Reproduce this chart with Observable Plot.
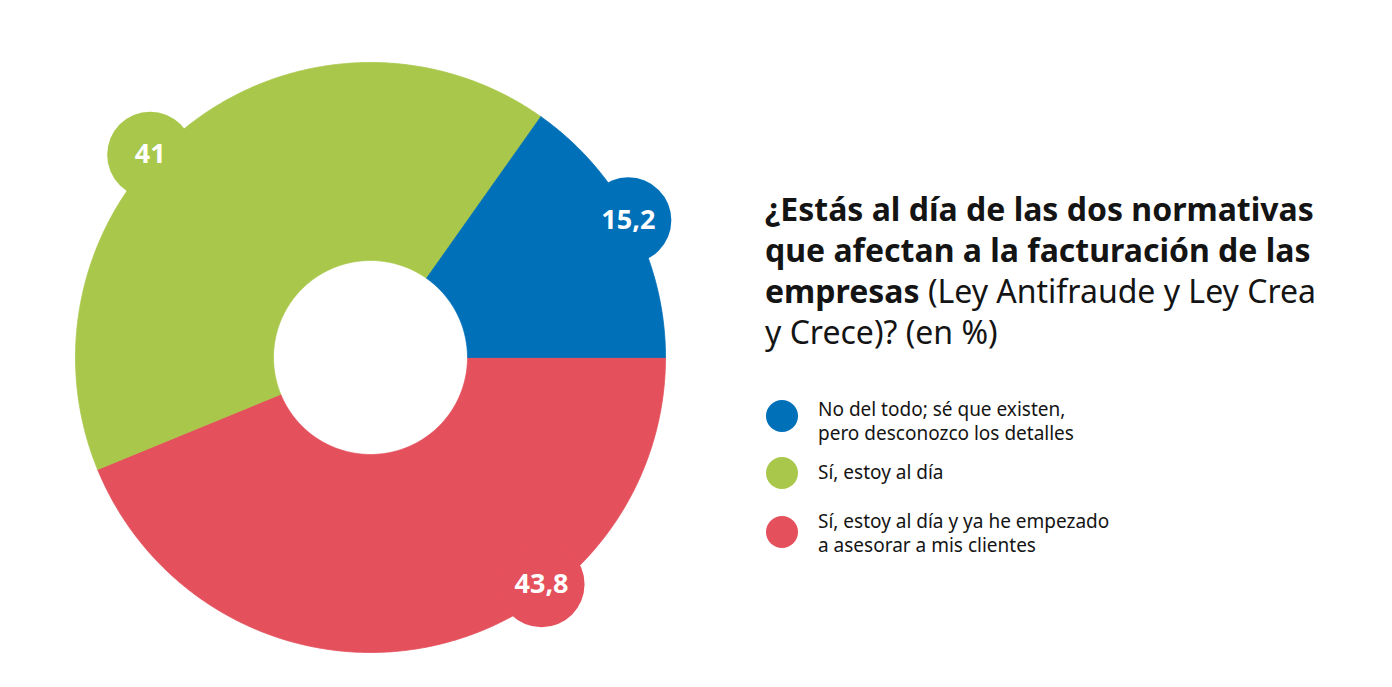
<!DOCTYPE html>
<html>
<head>
<meta charset="utf-8">
<script src="https://cdn.jsdelivr.net/npm/d3@7"></script>
<script src="https://cdn.jsdelivr.net/npm/@observablehq/plot@0.6"></script>
<style>
  body { margin: 0; background: #fff; }
  #wrap { position: relative; width: 1392px; height: 687px; font-family: "Noto Sans", Roboto, sans-serif; color: #141414; overflow: hidden; }
  #chart { position: absolute; left: 0; top: 0; }
  #title { position: absolute; left: 765px; top: 188px; font-size: 32px; line-height: 41px; white-space: nowrap; font-weight: 400; }
  #title b { font-weight: 700; }
  .item { position: absolute; left: 766px; }
  .item .sw { position: absolute; left: 0; width: 32px; height: 32px; border-radius: 50%; }
  .item .tx { position: absolute; left: 52px; font-size: 19px; line-height: 24px; white-space: pre; }
</style>
</head>
<body>
<div id="wrap">
  <div id="chart"></div>
  <div id="title"><b>¿Estás al día de las dos normativas<br>que afectan a la facturación de las<br>empresas</b> (Ley Antifraude y Ley Crea<br>y Crece)? (en %)</div>
  <div id="legend"></div>
</div>
<script>
// Survey answers (percent)
const categories = [
  "No del todo; sé que existen,\npero desconozco los detalles",
  "Sí, estoy al día",
  "Sí, estoy al día y ya he empezado\na asesorar a mis clientes"
];
const values = [15.2, 41, 43.8];
const colors = ["#0070b9", "#a9c84b", "#e4505c"];

// Drawing order clockwise, starting at 3 o'clock
const sliceOrder = [2, 1, 0];
const startDeg = 90;

// Layout: where each value bubble sits (fraction along its slice, radial distance)
const labelAlong = [0.488, 0.44, 0.336];
const labelDist = [0.99, 1.015, 0.963];

const innerR = 97 / 295;
const bubbleR = 43;
const fmt = v => String(v).replace(".", ",");

// Build ring-segment outlines in unit-circle coordinates
const rows = [];
const labels = [];
const total = d3.sum(values);
let a = startDeg;
for (const i of sliceOrder) {
  const a0 = a, a1 = a + values[i] / total * 360;
  const n = Math.max(8, Math.ceil(a1 - a0) * 2);
  const pts = [];
  for (let k = 0; k <= n; k++) {
    const t = (a0 + (a1 - a0) * k / n) * Math.PI / 180;
    pts.push({cat: categories[i], x: Math.sin(t), y: Math.cos(t)});
  }
  for (let k = n; k >= 0; k--) {
    const t = (a0 + (a1 - a0) * k / n) * Math.PI / 180;
    pts.push({cat: categories[i], x: innerR * Math.sin(t), y: innerR * Math.cos(t)});
  }
  pts.push({...pts[0]});
  rows.push(...pts);
  const am = (a0 + (a1 - a0) * labelAlong[i]) * Math.PI / 180;
  labels.push({cat: categories[i], value: values[i], x: labelDist[i] * Math.sin(am), y: labelDist[i] * Math.cos(am)});
  a = a1;
}

const W = 740, H = 687, R = 295, cx = 370, cy = 357;
const chart = Plot.plot({
  width: W,
  height: H,
  margin: 0,
  style: {fontFamily: "'Noto Sans', Roboto, sans-serif", background: "transparent"},
  x: {domain: [-cx / R, (W - cx) / R], axis: null},
  y: {domain: [(cy - H) / R, cy / R], axis: null},
  color: {domain: categories, range: colors},
  marks: [
    Plot.line(rows, {x: "x", y: "y", z: "cat", fill: "cat", stroke: "cat", strokeWidth: 0.8, curve: "linear"}),
    Plot.dot(labels, {x: "x", y: "y", r: bubbleR, fill: "cat", stroke: null}),
    Plot.text(labels, {x: "x", y: "y", text: d => fmt(d.value), fill: "white", fontSize: 27, fontWeight: 700})
  ]
});
document.getElementById("chart").append(chart);

// Legend
const legendTop = [397, 460, 509];
const swatchCenter = [416, 473, 532];
const legend = document.getElementById("legend");
categories.forEach((c, i) => {
  const item = document.createElement("div");
  item.className = "item";
  item.style.top = "0px";
  const sw = document.createElement("div");
  sw.className = "sw";
  sw.style.background = colors[i];
  sw.style.top = (swatchCenter[i] - 16) + "px";
  const tx = document.createElement("div");
  tx.className = "tx";
  tx.style.top = legendTop[i] + "px";
  tx.textContent = c;
  item.append(sw, tx);
  legend.append(item);
});
</script>
</body>
</html>
